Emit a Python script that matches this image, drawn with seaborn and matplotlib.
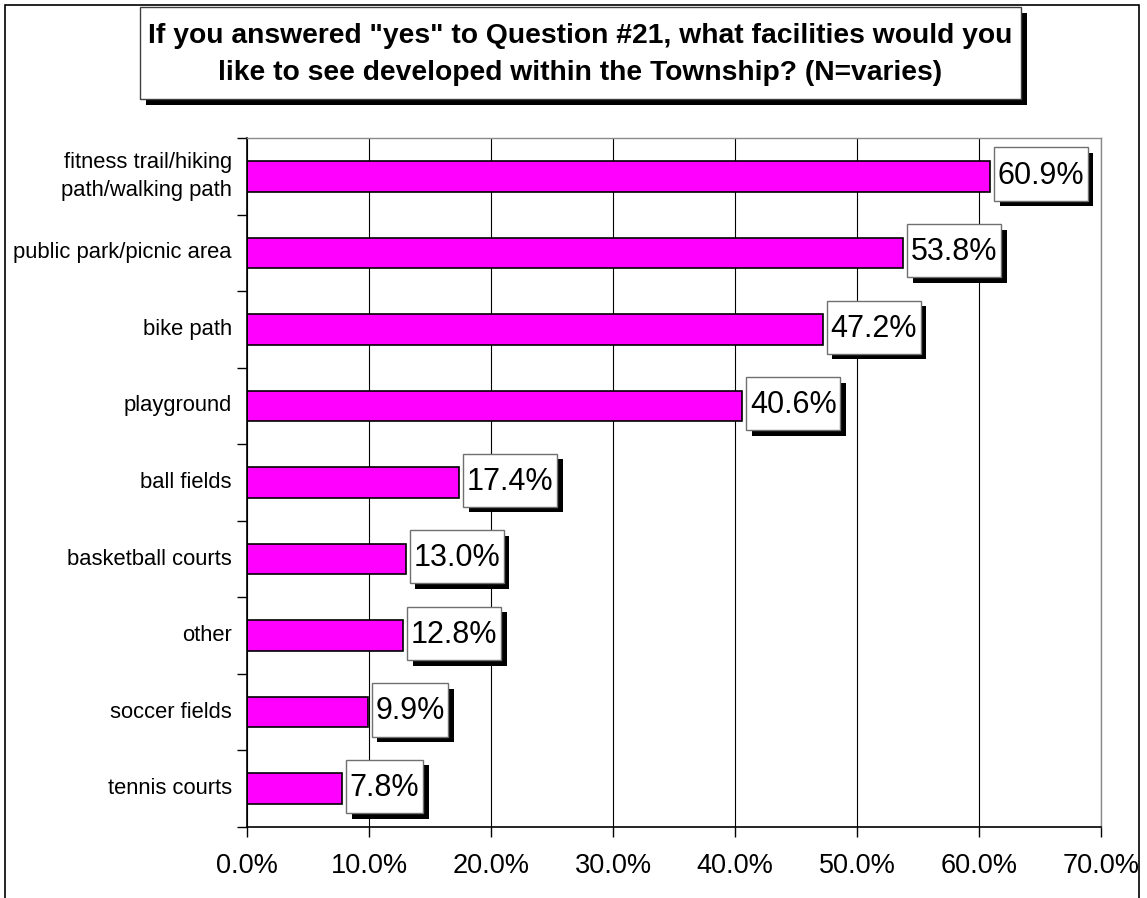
import matplotlib
matplotlib.use("Agg")
import matplotlib.pyplot as plt
import matplotlib.patches as mpatches
import matplotlib.patheffects as pe
from matplotlib.path import Path
from matplotlib.ticker import FixedLocator, FuncFormatter
import numpy as np
import pandas as pd
import seaborn as sns

categories = [
    "fitness trail/hiking\npath/walking path",
    "public park/picnic area",
    "bike path",
    "playground",
    "ball fields",
    "basketball courts",
    "other",
    "soccer fields",
    "tennis courts",
]
percentages = [60.9, 53.8, 47.2, 40.6, 17.4, 13.0, 12.8, 9.9, 7.8]
x_ticks = [0, 10, 20, 30, 40, 50, 60, 70]
title = ('If you answered "yes" to Question #21, what facilities would you\n'
         'like to see developed within the Township? (N=varies)')

sns.set_theme(style="white")
plt.rcParams["font.family"] = ["Liberation Sans", "DejaVu Sans"]
plt.rcParams["text.color"] = "black"
plt.rcParams["xtick.color"] = "black"
plt.rcParams["ytick.color"] = "black"

W, H = 1147, 898
fig = plt.figure(figsize=(W / 100, H / 100), dpi=100)
fig.patch.set_facecolor("white")

# outer chart border (runs off the bottom edge)
fig.add_artist(mpatches.Rectangle((5 / W, -0.05), (1139 - 5) / W, 1 - 5 / H + 0.05,
                                  transform=fig.transFigure, fill=False,
                                  edgecolor="black", lw=1.2))

# title box with drop shadow
tx0, ty0, tx1, ty1 = 140, 7, 1021, 99
fig.add_artist(mpatches.Rectangle(((tx0 + 6) / W, 1 - (ty1 + 6) / H), (tx1 - tx0) / W,
                                  (ty1 - ty0) / H, transform=fig.transFigure,
                                  facecolor="black", edgecolor="black", lw=0))
fig.add_artist(mpatches.Rectangle((tx0 / W, 1 - ty1 / H), (tx1 - tx0) / W,
                                  (ty1 - ty0) / H, transform=fig.transFigure,
                                  facecolor="white", edgecolor="#404040", lw=1.0))
fig.text((tx0 + tx1) / 2 / W, 1 - (ty0 + ty1) / 2 / H - 0.002, title, ha="center",
         va="center", fontsize=20.3, fontweight="bold", linespacing=1.55, color="black")

ax = fig.add_axes([247 / W, 1 - 827 / H, (1101 - 247) / W, (827 - 138) / H])
df = pd.DataFrame({"facility": categories, "pct": percentages})
sns.barplot(data=df, x="pct", y="facility", order=categories, orient="h",
            color="#FF00FF", saturation=1, edgecolor="black", linewidth=1.2,
            width=0.4, ax=ax)

ax.set_xlim(0, 70)
ax.set_ylim(len(categories) - 0.5, -0.5)
ax.set_xlabel("")
ax.set_ylabel("")
ax.xaxis.set_major_locator(FixedLocator(x_ticks))
ax.xaxis.set_major_formatter(FuncFormatter(lambda v, p: f"{v:.1f}%"))
ax.tick_params(axis="x", direction="out", length=7, width=1, color="black",
               labelsize=19.5, pad=12, bottom=True, labelcolor="black")
ax.tick_params(axis="y", which="major", length=0, labelsize=15.8, pad=11,
               labelcolor="black")
for lbl in ax.get_yticklabels():
    lbl.set_linespacing(1.45)
    lbl.set_va("center")
ax.yaxis.set_minor_locator(FixedLocator(np.arange(-0.5, len(categories), 1.0)))
ax.tick_params(axis="y", which="minor", direction="out", length=7, width=1,
               color="black", left=True)
ax.grid(axis="x", color="black", lw=0.8)
ax.grid(axis="y", visible=False)
ax.set_axisbelow(True)
for side in ("left", "bottom"):
    ax.spines[side].set_color("black")
    ax.spines[side].set_linewidth(1.2)
for side in ("top", "right"):
    ax.spines[side].set_color("#8a8a8a")
    ax.spines[side].set_linewidth(1.0)


def callout_box(x0, y0, width, height, mutation_size):
    """Rectangle hugging the text horizontally, roomier vertically."""
    px = 0.12 * mutation_size
    top = 0.43 * mutation_size
    bottom = 0.33 * mutation_size
    xa, ya = x0 - px, y0 - bottom
    xb, yb = x0 + width + px, y0 + height + top
    return Path([(xa, ya), (xb, ya), (xb, yb), (xa, yb), (xa, ya)],
                [Path.MOVETO, Path.LINETO, Path.LINETO, Path.LINETO, Path.CLOSEPOLY])


# value labels in boxed callouts with shadows
for i, v in enumerate(percentages):
    t = ax.annotate(f"{v:.1f}%", xy=(v, i), xytext=(5.5, 0.5), textcoords="offset points",
                    ha="left", va="center", fontsize=22, color="black",
                    bbox=dict(boxstyle=callout_box, facecolor="white",
                              edgecolor="#707070", lw=1.0))
    t.get_bbox_patch().set_path_effects([
        pe.SimplePatchShadow(offset=(4, -4), shadow_rgbFace="black", alpha=1.0),
        pe.Normal(),
    ])

fig.savefig("out.png", dpi=100, facecolor="white")
